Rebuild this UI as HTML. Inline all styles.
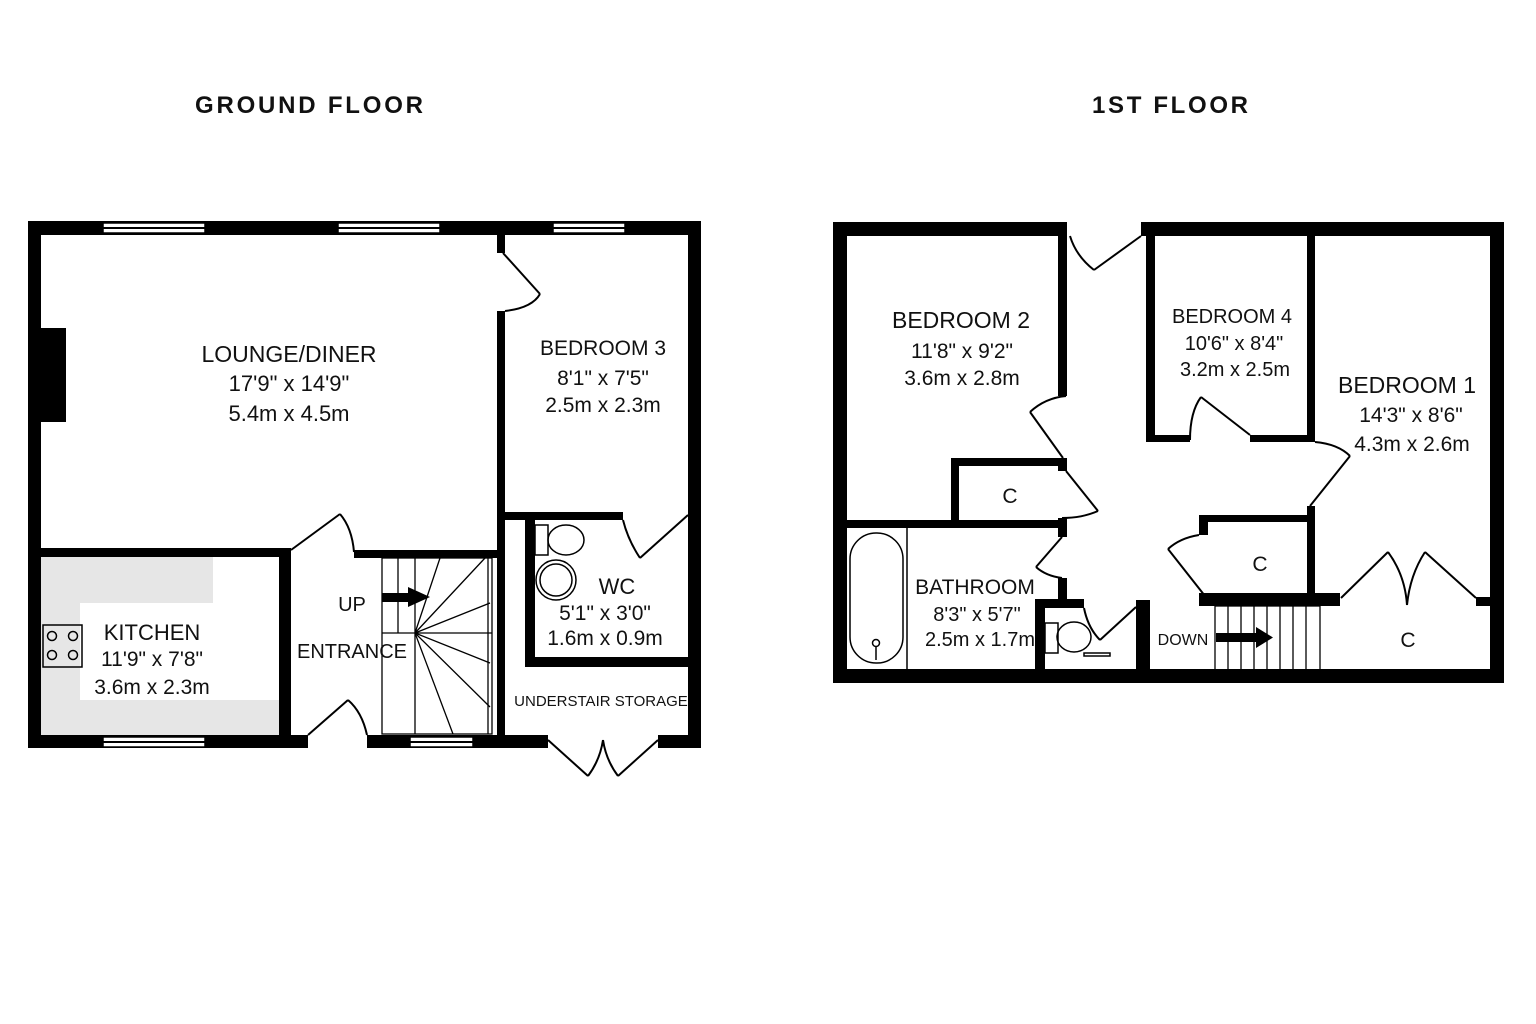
<!DOCTYPE html>
<html><head><meta charset="utf-8"><style>
html,body{margin:0;padding:0;background:#fff;}
svg{display:block;}
text{font-family:"Liberation Sans",sans-serif;fill:#111;}
</style></head><body>
<svg width="1536" height="1024" viewBox="0 0 1536 1024" xmlns="http://www.w3.org/2000/svg">
<rect width="1536" height="1024" fill="#fff"/>
<text x="195" y="113" font-size="24" font-weight="bold" textLength="228" fill="#111">GROUND FLOOR</text>
<text x="1092" y="113" font-size="24" font-weight="bold" textLength="156">1ST FLOOR</text>

<!-- ===== GROUND FLOOR ===== -->
<rect x="41" y="557" width="238" height="178" fill="#e6e6e6"/>
<rect x="213" y="557" width="66" height="46" fill="#fff"/>
<rect x="80" y="603" width="199" height="97" fill="#fff"/>
<g fill="#000">
<rect x="28" y="221" width="673" height="14"/>
<rect x="28" y="221" width="13" height="527"/>
<rect x="688" y="221" width="13" height="527"/>
<rect x="28" y="735" width="280" height="13"/>
<rect x="367" y="735" width="181" height="13"/>
<rect x="658" y="735" width="43" height="13"/>
<rect x="41" y="328" width="25" height="94"/>
<rect x="497" y="235" width="8" height="18"/>
<rect x="497" y="311" width="8" height="437"/>
<rect x="41" y="548" width="250" height="9"/>
<rect x="279" y="548" width="12" height="190"/>
<rect x="354" y="550" width="143" height="8"/>
<rect x="503" y="512" width="120" height="8"/>
<rect x="525" y="520" width="10" height="147"/>
<rect x="525" y="657" width="170" height="10"/>
</g>
<g fill="#fff" stroke="#000" stroke-width="1.5">
<rect x="103" y="223" width="102" height="10"/>
<rect x="338" y="223" width="102" height="10"/>
<rect x="553" y="223" width="72" height="10"/>
<rect x="103" y="737" width="102" height="10"/>
<rect x="410" y="737" width="63" height="10"/>
<rect x="900" y="224" width="108" height="10"/>
<rect x="1200" y="224" width="65" height="10"/>
<rect x="1360" y="224" width="79" height="10"/>
</g>
<g fill="none" stroke="#000" stroke-width="2">
<line x1="103" y1="228" x2="205" y2="228"/><line x1="338" y1="228" x2="440" y2="228"/><line x1="553" y1="228" x2="625" y2="228"/>
<line x1="103" y1="742" x2="205" y2="742"/><line x1="410" y1="742" x2="473" y2="742"/>
<line x1="900" y1="229" x2="1008" y2="229"/><line x1="1200" y1="229" x2="1265" y2="229"/><line x1="1360" y1="229" x2="1439" y2="229"/>
</g>
<g fill="none" stroke="#000" stroke-width="2">
<line x1="503" y1="253" x2="540" y2="294"/><path d="M540 294 Q532 308 505 311"/>
<line x1="291" y1="550" x2="340" y2="514"/><path d="M340 514 Q352 528 354 552"/>
<line x1="308" y1="735" x2="348" y2="700"/><path d="M348 700 Q362 712 367 735"/>
<line x1="688" y1="515" x2="640" y2="558"/><path d="M640 558 Q628 540 623 520"/>
<line x1="548" y1="740" x2="588" y2="776"/><path d="M588 776 Q600 760 603 740"/>
<line x1="658" y1="740" x2="618" y2="776"/><path d="M618 776 Q606 760 603 740"/>
</g>
<g fill="none" stroke="#000" stroke-width="1.3">
<rect x="382" y="558" width="110" height="176"/>
<line x1="382" y1="597" x2="415" y2="597"/><line x1="382" y1="633" x2="492" y2="633"/>
<line x1="398" y1="558" x2="398" y2="633"/><line x1="415" y1="558" x2="415" y2="734"/>
<line x1="488" y1="558" x2="488" y2="734"/>
<line x1="415" y1="633" x2="440" y2="558"/><line x1="415" y1="633" x2="485" y2="558"/><line x1="415" y1="633" x2="490" y2="603"/>
<line x1="415" y1="633" x2="490" y2="663"/><line x1="415" y1="633" x2="490" y2="707"/><line x1="415" y1="633" x2="453" y2="734"/>
</g>
<rect x="382" y="593" width="28" height="9" fill="#000"/><polygon points="408,587 430,597 408,607" fill="#000"/>
<g fill="none" stroke="#000" stroke-width="1.5">
<rect x="535" y="525" width="13" height="30"/><ellipse cx="566" cy="540" rx="18" ry="15"/>
<circle cx="556" cy="580" r="20"/><circle cx="556" cy="580" r="16"/>
<rect x="43" y="625" width="39" height="42"/>
<circle cx="52" cy="636" r="4.5"/><circle cx="73" cy="636" r="4.5"/><circle cx="52" cy="655" r="4.5"/><circle cx="73" cy="655" r="4.5"/>
</g>

<g text-anchor="middle" font-size="23">
<text x="289" y="362">LOUNGE/DINER</text>
<text x="289" y="391" fill="#444" font-size="22">17'9" x 14'9"</text>
<text x="289" y="421" fill="#444" font-size="22">5.4m x 4.5m</text>
<text x="603" y="355" font-size="21">BEDROOM 3</text>
<text x="603" y="385" font-size="21">8'1" x 7'5"</text>
<text x="603" y="412" font-size="21">2.5m x 2.3m</text>
<text x="617" y="594" font-size="22">WC</text>
<text x="605" y="620" font-size="21">5'1" x 3'0"</text>
<text x="605" y="645" font-size="21">1.6m x 0.9m</text>
<text x="601" y="706" font-size="15">UNDERSTAIR STORAGE</text>
<text x="352" y="611" font-size="20">UP</text>
<text x="352" y="658" font-size="20">ENTRANCE</text>
<text x="152" y="640" font-size="22">KITCHEN</text>
<text x="152" y="666" font-size="21">11'9" x 7'8"</text>
<text x="152" y="694" font-size="21">3.6m x 2.3m</text>
</g>

<!-- ===== FIRST FLOOR ===== -->
<g fill="#000">
<rect x="833" y="222" width="234" height="14"/>
<rect x="1141" y="222" width="363" height="14"/>
<rect x="833" y="222" width="14" height="461"/>
<rect x="1490" y="222" width="14" height="461"/>
<rect x="833" y="669" width="671" height="14"/>
<rect x="1058" y="236" width="9" height="160"/>
<rect x="1058" y="458" width="9" height="13"/>
<rect x="951" y="458" width="116" height="8"/>
<rect x="951" y="458" width="8" height="70"/>
<rect x="847" y="520" width="220" height="8"/>
<rect x="1058" y="518" width="9" height="19"/>
<rect x="1058" y="578" width="9" height="30"/>
<rect x="1035" y="599" width="49" height="9"/>
<rect x="1035" y="599" width="10" height="75"/>
<rect x="1136" y="600" width="14" height="75"/>
<rect x="1146" y="236" width="9" height="206"/>
<rect x="1146" y="435" width="44" height="7"/>
<rect x="1250" y="435" width="65" height="7"/>
<rect x="1307" y="236" width="8" height="206"/>
<rect x="1307" y="506" width="8" height="96"/>
<rect x="1199" y="515" width="116" height="7"/>
<rect x="1199" y="515" width="9" height="20"/>
<rect x="1199" y="593" width="141" height="13"/>
<rect x="1476" y="597" width="20" height="9"/>
</g>
<g fill="none" stroke="#000" stroke-width="2">
<line x1="1141" y1="236" x2="1094" y2="270"/><path d="M1094 270 Q1076 256 1070 236"/>
<path d="M1066 396 Q1045 398 1030 412"/><line x1="1030" y1="412" x2="1063" y2="458"/>
<line x1="1066" y1="471" x2="1098" y2="511"/><path d="M1098 511 Q1082 518 1062 518"/>
<line x1="1062" y1="537" x2="1036" y2="567"/><path d="M1036 567 Q1046 576 1062 578"/>
<path d="M1084 608 Q1088 628 1100 640"/><line x1="1100" y1="640" x2="1136" y2="607"/>
<path d="M1190 440 Q1190 412 1201 397"/><line x1="1201" y1="397" x2="1250" y2="435"/>
<path d="M1315 442 Q1338 444 1350 456"/><line x1="1350" y1="456" x2="1310" y2="506"/>
<path d="M1199 535 Q1180 538 1168 549"/><line x1="1168" y1="549" x2="1205" y2="596"/>
<line x1="1341" y1="598" x2="1388" y2="552"/><path d="M1388 552 Q1405 575 1407 605"/>
<line x1="1476" y1="598" x2="1425" y2="552"/><path d="M1425 552 Q1410 575 1407 605"/>
</g>
<g fill="none" stroke="#000" stroke-width="1.5">
<rect x="850" y="533" width="53" height="130" rx="26"/>
<line x1="907" y1="528" x2="907" y2="669"/>
<circle cx="876" cy="643" r="3.5"/><line x1="876" y1="647" x2="876" y2="660"/>
<rect x="1045" y="623" width="13" height="30"/><ellipse cx="1074" cy="637" rx="17" ry="15"/>
<rect x="1084" y="653" width="26" height="3"/>
</g>
<g fill="none" stroke="#000" stroke-width="1.3">
<rect x="1215" y="606" width="105" height="64"/>
<line x1="1228" y1="606" x2="1228" y2="670"/><line x1="1241" y1="606" x2="1241" y2="670"/>
<line x1="1254" y1="606" x2="1254" y2="670"/><line x1="1267" y1="606" x2="1267" y2="670"/>
<line x1="1280" y1="606" x2="1280" y2="670"/><line x1="1293" y1="606" x2="1293" y2="670"/>
<line x1="1306" y1="606" x2="1306" y2="670"/>
</g>
<rect x="1216" y="633" width="42" height="9" fill="#000"/><polygon points="1256,627 1273,637.5 1256,648" fill="#000"/>
<g text-anchor="middle" font-size="23">
<text x="961" y="328">BEDROOM 2</text>
<text x="962" y="358" font-size="21">11'8" x 9'2"</text>
<text x="962" y="385" font-size="21">3.6m x 2.8m</text>
<text x="1232" y="323" font-size="20">BEDROOM 4</text>
<text x="1234" y="350" font-size="20">10'6" x 8'4"</text>
<text x="1235" y="376" font-size="20">3.2m x 2.5m</text>
<text x="1407" y="393">BEDROOM 1</text>
<text x="1411" y="422" font-size="21">14'3" x 8'6"</text>
<text x="1412" y="451" font-size="21">4.3m x 2.6m</text>
<text x="1010" y="503" font-size="21">C</text>
<text x="1260" y="571" font-size="21">C</text>
<text x="1408" y="647" font-size="21">C</text>
<text x="975" y="594" font-size="21">BATHROOM</text>
<text x="977" y="621" font-size="20">8'3" x 5'7"</text>
<text x="980" y="646" font-size="20">2.5m x 1.7m</text>
<text x="1183" y="645" font-size="16">DOWN</text>
</g>
</svg>
</body></html>
